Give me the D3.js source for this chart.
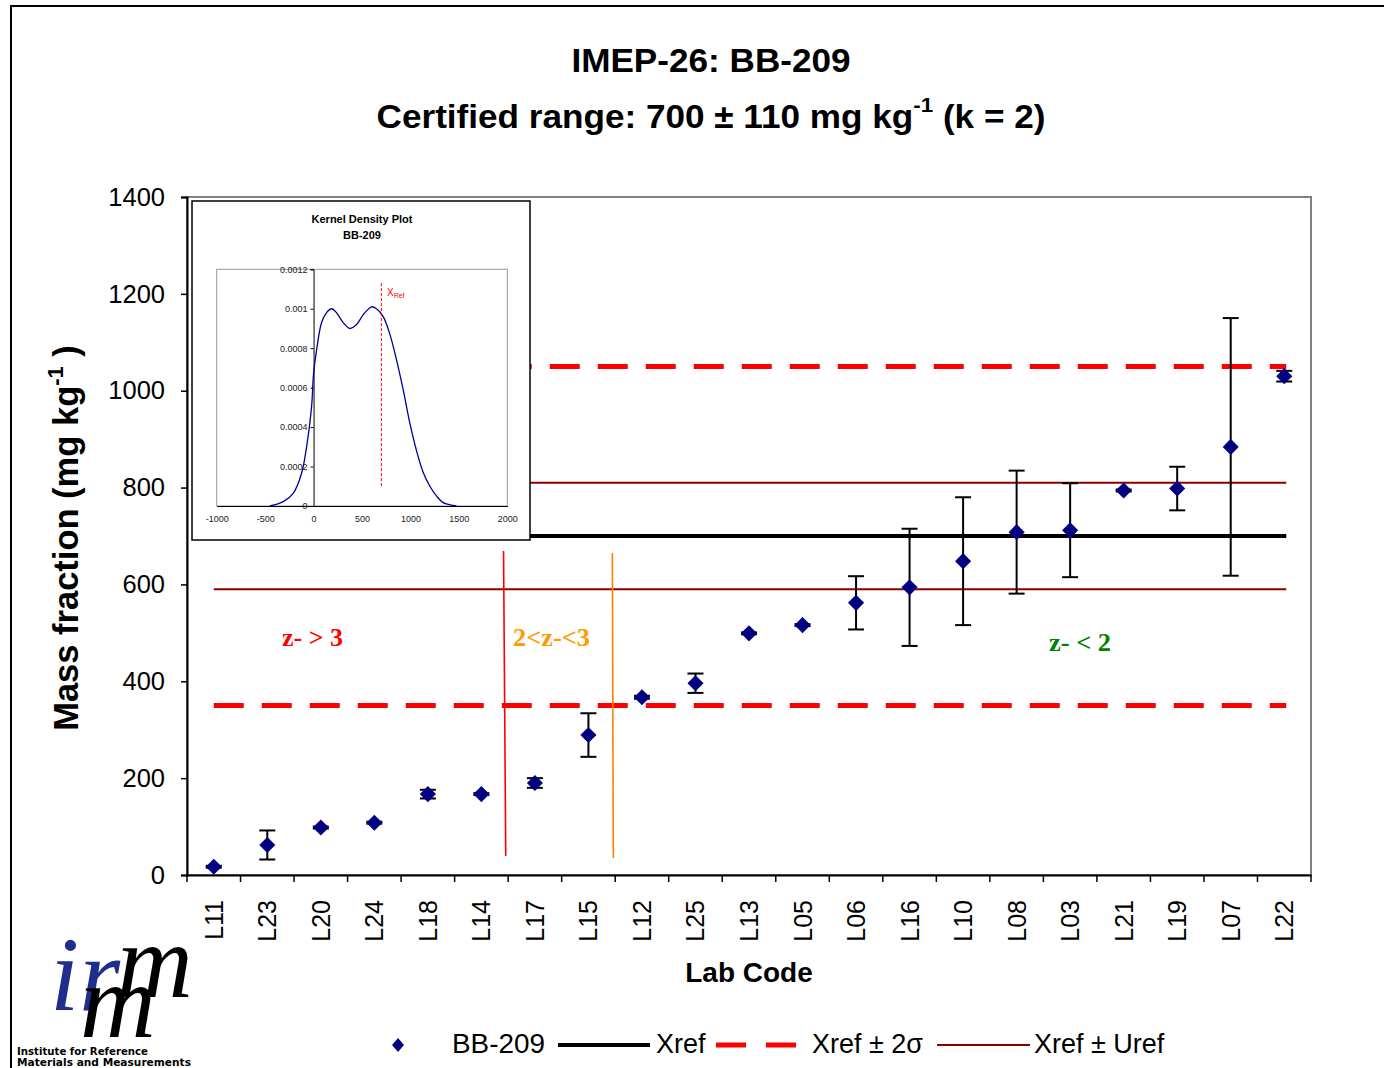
<!DOCTYPE html>
<html><head><meta charset="utf-8">
<script src="https://cdn.jsdelivr.net/npm/d3@7"></script>
<style>
body{margin:0;background:#fff}
svg{display:block}
text{font-family:"Liberation Sans",Arial,Helvetica,sans-serif}
text.serif{font-family:"Liberation Serif","Times New Roman",serif}
text.dv{font-family:"DejaVu Sans",Verdana,sans-serif}
</style>
</head><body>
<svg id="c" width="1384" height="1068"></svg>
<script>
// ---------- data ----------
const labs = ["L11","L23","L20","L24","L18","L14","L17","L15","L12","L25","L13","L05","L06","L16","L10","L08","L03","L21","L19","L07","L22"];
const vals = [17,62,98,108,167,167,190,289,367,396,499,516,562,594,648,708,712,794,798,884,1030];
const uncs = [2,30,2,2,9,2,10,45,3,20,2,2,55,121,132,127,97,2,45,266,11];
const yTicks = [0,200,400,600,800,1000,1200,1400];
const xRef = 700, sigma2 = 350, uRef = 110;
const kdX = [-451,-313,-210,-124,-72,-21,0,31,83,134,186,237,306,375,444,513,599,650,719,788,857,925,994,1063,1132,1201,1270,1338,1442,1476];
const kdY = [0,0.000022,0.000064,0.000166,0.0003,0.0005,0.00067,0.00079,0.00093,0.00098,0.001,0.00098,0.00093,0.0009,0.00092,0.00097,0.00101,0.001,0.00096,0.00087,0.00074,0.00059,0.00042,0.00028,0.00017,0.0001,0.00005,0.000017,0.000003,0];
const kdXTicks = [-1000,-500,0,500,1000,1500,2000];
const kdYTicks = [0,0.0002,0.0004,0.0006,0.0008,0.001,0.0012];

const svg = d3.select("#c");
const navy = "#000080";

// outer frame
svg.append("line").attr("x1",10).attr("x2",1384).attr("y1",6).attr("y2",6).attr("stroke","#000").attr("stroke-width",2);
svg.append("line").attr("x1",11).attr("x2",11).attr("y1",6).attr("y2",1068).attr("stroke","#000").attr("stroke-width",2);

// title
const t = svg.append("g").attr("font-weight","bold").attr("text-anchor","middle")
  .attr("transform","translate(711,0) scale(1.065,1)");
t.append("text").attr("x",0).attr("y",72).attr("font-size",33).text("IMEP-26: BB-209");
const t2 = t.append("text").attr("x",0).attr("y",128).attr("font-size",33);
t2.append("tspan").text("Certified range: 700 \u00B1 110 mg kg");
t2.append("tspan").attr("dy",-16).attr("font-size",21).text("-1");
t2.append("tspan").attr("dy",16).text(" (k = 2)");

// scales
const x = d3.scaleBand().domain(labs).range([187,1311]);
const xi = d3.scaleLinear().domain([0,labs.length]).range([187,1311]);
const y = d3.scaleLinear().domain([0,1400]).range([875,197]);
const cx = d => x(d) + x.bandwidth()/2;

// plot border
svg.append("rect").attr("x",187).attr("y",197).attr("width",1311-187).attr("height",875-197)
  .attr("fill","none").attr("stroke","#808080").attr("stroke-width",2);

// y axis
const ya = svg.append("g").attr("transform","translate(187,0)")
  .call(d3.axisLeft(y).tickValues(yTicks).tickSize(6).tickPadding(16).tickFormat(d3.format("d")));
ya.select(".domain").attr("stroke","#000").attr("stroke-width",2);
ya.selectAll(".tick line").attr("stroke","#000").attr("stroke-width",1.5);
ya.selectAll(".tick text").attr("font-size",25.5).attr("fill","#000").style("font-family","Liberation Sans, Arial");

// x axis
const xa = svg.append("g").attr("transform","translate(0,875)")
  .call(d3.axisBottom(x).tickSize(0).tickPadding(0));
xa.select(".domain").attr("stroke","#000").attr("stroke-width",2);
xa.selectAll(".tick text").attr("font-size",25).attr("fill","#000")
  .attr("text-anchor","end").attr("transform","translate(9,25) rotate(-90)").attr("dy",0).attr("y",0)
  .style("font-family","Liberation Sans, Arial");
svg.append("g").selectAll("line").data(d3.range(labs.length+1)).join("line")
  .attr("x1",d=>xi(d)).attr("x2",d=>xi(d)).attr("y1",875).attr("y2",882)
  .attr("stroke","#000").attr("stroke-width",1.5);

// axis titles
const yt = svg.append("text").attr("transform","translate(78,538) rotate(-90)").attr("text-anchor","middle")
  .attr("font-weight","bold").attr("font-size",34.5);
yt.append("tspan").text("Mass fraction (mg kg");
yt.append("tspan").attr("dy",-15).attr("font-size",22).text("-1");
yt.append("tspan").attr("dy",15).text(" )");
svg.append("text").attr("x",749).attr("y",982).attr("text-anchor","middle").attr("font-weight","bold")
  .attr("font-size",28).text("Lab Code");

// reference lines
const xa0 = cx(labs[0]), xa1 = cx(labs[labs.length-1]);
function hline(v, color, w, dash){
  svg.append("line").attr("x1",xa0).attr("x2",xa1+2).attr("y1",y(v)).attr("y2",y(v))
    .attr("stroke",color).attr("stroke-width",w).attr("stroke-dasharray",dash||null);
}
hline(xRef - uRef, "#8B0000", 2);
hline(xRef + uRef, "#8B0000", 2);
hline(xRef, "#000", 4);
hline(xRef - sigma2, "#FF0000", 5, "30,18");
hline(xRef + sigma2, "#FF0000", 5, "30,18");

// zone separators
const zones = [
  {t:5.914,b:5.955,top:669,bot:39,c:"#FF0000"},
  {t:7.947,b:7.965,top:665,bot:35,c:"#FF7F00"}
];
svg.append("g").selectAll("line").data(zones).join("line")
  .attr("x1",d=>xi(d.t)).attr("x2",d=>xi(d.b)).attr("y1",d=>y(d.top)).attr("y2",d=>y(d.bot))
  .attr("stroke",d=>d.c).attr("stroke-width",1.6);

// zone labels
const zl = svg.append("g").attr("font-weight","bold").attr("font-size",26);
zl.append("text").attr("class","serif").attr("x",282).attr("y",646).attr("fill","#FF0000").attr("textLength",61).attr("lengthAdjust","spacingAndGlyphs").text("z- > 3");
zl.append("text").attr("class","serif").attr("x",513).attr("y",646).attr("fill","#FF9900").attr("textLength",77).attr("lengthAdjust","spacingAndGlyphs").text("2<z-<3");
zl.append("text").attr("class","serif").attr("x",1049).attr("y",651).attr("fill","#008000").attr("textLength",62).attr("lengthAdjust","spacingAndGlyphs").text("z- < 2");

// error bars
const pts = labs.map((l,i)=>({l, v:vals[i], u:uncs[i]}));
const eb = svg.append("g").attr("stroke","#000").attr("stroke-width",2);
pts.forEach(p=>{
  const X = cx(p.l);
  eb.append("line").attr("x1",X).attr("x2",X).attr("y1",y(p.v+p.u)).attr("y2",y(p.v-p.u));
  eb.append("line").attr("x1",X-8).attr("x2",X+8).attr("y1",y(p.v+p.u)).attr("y2",y(p.v+p.u));
  eb.append("line").attr("x1",X-8).attr("x2",X+8).attr("y1",y(p.v-p.u)).attr("y2",y(p.v-p.u));
});
// diamonds
const sym = d3.symbol(d3.symbolSquare, 130);
svg.append("g").selectAll("path").data(pts).join("path")
  .attr("d",sym).attr("fill",navy)
  .attr("transform",p=>`translate(${cx(p.l)},${y(p.v)}) rotate(45)`);

// ---------- inset ----------
const ins = svg.append("g");
ins.append("rect").attr("x",192).attr("y",201).attr("width",338).attr("height",339)
  .attr("fill","#fff").attr("stroke","#000").attr("stroke-width",1.5);
ins.append("text").attr("x",362).attr("y",223).attr("text-anchor","middle").attr("font-weight","bold").attr("font-size",11).text("Kernel Density Plot");
ins.append("text").attr("x",362).attr("y",239).attr("text-anchor","middle").attr("font-weight","bold").attr("font-size",11).text("BB-209");
const kx = d3.scaleLinear().domain([-1000,2000]).range([216.7,507.3]);
const ky = d3.scaleLinear().domain([0,0.0012]).range([506,269.3]);
ins.append("rect").attr("x",216.7).attr("y",269.3).attr("width",507.3-216.7).attr("height",506-269.3)
  .attr("fill","none").attr("stroke","#999").attr("stroke-width",1);
const kxa = ins.append("g").attr("transform","translate(0,506)")
  .call(d3.axisBottom(kx).tickValues(kdXTicks).tickSize(0).tickPadding(10).tickFormat(d=>d));
kxa.select(".domain").attr("stroke","#000");
kxa.selectAll("text").attr("font-size",9).attr("fill","#222").style("font-family","Liberation Sans, Arial");
const kya = ins.append("g").attr("transform",`translate(${kx(0)},0)`)
  .call(d3.axisLeft(ky).tickValues(kdYTicks).tickSize(3).tickPadding(3).tickFormat(d=>d===0?"0":String(+d.toPrecision(2))));
kya.select(".domain").attr("stroke","#000");
kya.selectAll("line").attr("stroke","#000");
kya.selectAll("text").attr("font-size",9).attr("fill","#222").style("font-family","Liberation Sans, Arial");
ins.append("path").datum(kdX.map((v,i)=>[v,kdY[i]]))
  .attr("d",d3.line().x(d=>kx(d[0])).y(d=>ky(d[1])).curve(d3.curveCatmullRom))
  .attr("fill","none").attr("stroke","#000099").attr("stroke-width",1.3);
ins.append("line").attr("x1",kx(xRef)).attr("x2",kx(xRef)).attr("y1",ky(0.00113)).attr("y2",ky(0.0001))
  .attr("stroke","#FF0000").attr("stroke-width",1).attr("stroke-dasharray","3,2");
const xr = ins.append("text").attr("x",387).attr("y",296).attr("fill","#FF0000").attr("font-size",10);
xr.append("tspan").text("X");
xr.append("tspan").attr("dy",2).attr("font-size",7).text("Ref");

// ---------- legend ----------
const lg = svg.append("g").attr("font-size",27);
lg.append("path").attr("d",d3.symbol(d3.symbolSquare,100)()).attr("fill",navy)
  .attr("transform","translate(398,1045) scale(0.85,1) rotate(45)");
lg.append("text").attr("x",452).attr("y",1053).attr("textLength",93).attr("lengthAdjust","spacingAndGlyphs").text("BB-209");
lg.append("line").attr("x1",558).attr("x2",650).attr("y1",1045).attr("y2",1045).attr("stroke","#000").attr("stroke-width",4);
lg.append("text").attr("x",656).attr("y",1053).text("Xref");
lg.append("line").attr("x1",716).attr("x2",796).attr("y1",1045).attr("y2",1045).attr("stroke","#FF0000").attr("stroke-width",5).attr("stroke-dasharray","30,20");
lg.append("text").attr("x",812).attr("y",1053).text("Xref \u00B1 2\u03C3");
lg.append("line").attr("x1",937).attr("x2",1030).attr("y1",1045).attr("y2",1045).attr("stroke","#8B0000").attr("stroke-width",2);
lg.append("text").attr("x",1034).attr("y",1053).text("Xref \u00B1 Uref");

// ---------- logo ----------
const logo = svg.append("g").attr("font-style","italic");
logo.append("text").attr("class","serif").attr("x",50).attr("y",1010).attr("font-size",105).attr("fill","#1f2e8c").text("ir");
logo.append("text").attr("class","serif").attr("x",117).attr("y",997).attr("font-size",105).attr("fill","#000").text("m");
logo.append("text").attr("class","serif").attr("x",80).attr("y",1037).attr("font-size",105).attr("fill","#000").text("m");
const lt = svg.append("g").attr("font-weight","bold").attr("font-size",11);
lt.append("text").attr("class","dv").attr("x",17).attr("y",1055).attr("textLength",131).attr("lengthAdjust","spacingAndGlyphs").text("Institute for Reference");
lt.append("text").attr("class","dv").attr("x",17).attr("y",1065.5).attr("textLength",174).attr("lengthAdjust","spacingAndGlyphs").text("Materials and Measurements");
</script>
</body></html>
